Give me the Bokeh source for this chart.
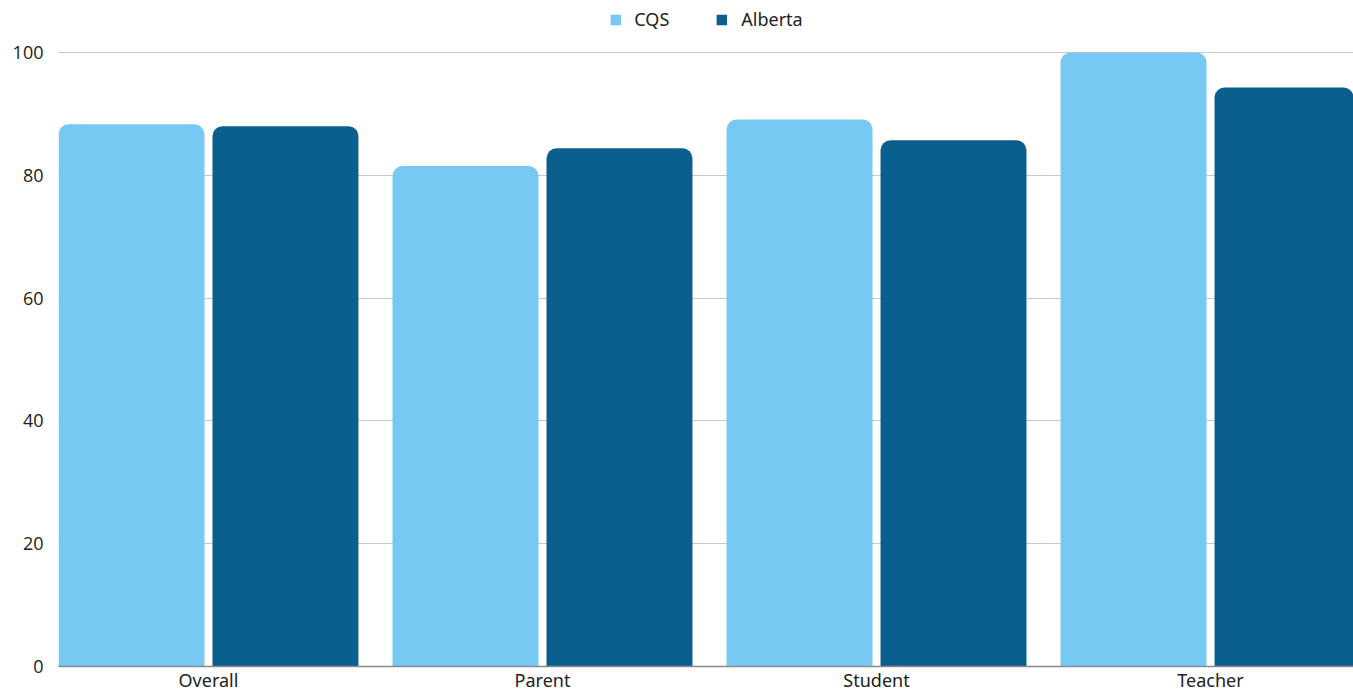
from bokeh.plotting import figure
from bokeh.models import FixedTicker, ColumnDataSource, Legend, LegendItem, Range1d
from bokeh.embed import file_html
from bokeh.resources import INLINE

# Survey results by respondent group
categories = ["Overall", "Parent", "Student", "Teacher"]
cqs = [88.3, 81.5, 89.1, 100.0]
alberta = [88.0, 84.4, 85.7, 94.3]
y_ticks = [0, 20, 40, 60, 80, 100]

CQS_COLOR = "#75C9F2"
AB_COLOR = "#0B5F8F"

xs = list(range(len(categories)))
offset = 0.2305
bar_w = 0.437

src = ColumnDataSource(dict(
    x=xs,
    x_cqs=[x - offset for x in xs],
    x_ab=[x + offset for x in xs],
    cqs=cqs,
    alberta=alberta,
))

p = figure(
    width=1353, height=694,
    x_range=Range1d(-0.449, 3.428),
    y_range=Range1d(0, 108.46),
    output_backend="svg", toolbar_location=None,
    min_border_left=58, min_border_right=0, min_border_top=0, min_border_bottom=0,
)
p.outline_line_color = None
p.background_fill_color = "white"
p.border_fill_color = "white"

r1 = p.vbar(x="x_cqs", top="cqs", width=bar_w, bottom=0, source=src,
            fill_color=CQS_COLOR, line_color=None, border_radius=(10, 10, 0, 0))
r2 = p.vbar(x="x_ab", top="alberta", width=bar_w, bottom=0, source=src,
            fill_color=AB_COLOR, line_color=None, border_radius=(10, 10, 0, 0))

# axes
p.xaxis.ticker = FixedTicker(ticks=xs)
p.xaxis.major_label_overrides = {i: c for i, c in enumerate(categories)}
p.xaxis.major_tick_line_color = None
p.xaxis.major_tick_out = 0
p.xaxis.major_tick_in = 0
p.xaxis.minor_tick_line_color = None
p.xaxis.axis_line_color = "#8a8a8a"
p.xaxis.axis_line_width = 1.5
p.xaxis.major_label_standoff = 1
p.xaxis.major_label_text_font = "Noto Sans"
p.xaxis.major_label_text_font_size = "18px"
p.xaxis.major_label_text_color = "#222222"

p.yaxis.ticker = FixedTicker(ticks=y_ticks)
p.yaxis.axis_line_color = None
p.yaxis.major_tick_line_color = None
p.yaxis.major_tick_out = 0
p.yaxis.major_tick_in = 0
p.yaxis.minor_tick_line_color = None
p.yaxis.major_label_standoff = 15
p.yaxis.major_label_text_font = "Open Sans"
p.yaxis.major_label_text_font_size = "18px"
p.yaxis.major_label_text_color = "#222222"

p.xgrid.grid_line_color = None
p.ygrid.ticker = FixedTicker(ticks=y_ticks[1:])
p.ygrid.grid_line_color = "#c8c8c8"
p.ygrid.grid_line_width = 1
p.ygrid.level = "underlay"

legend = Legend(
    items=[LegendItem(label="CQS", renderers=[r1]),
           LegendItem(label="Alberta", renderers=[r2])],
    location="top_center", orientation="horizontal",
    glyph_width=13, glyph_height=13, label_standoff=13, spacing=46,
    label_text_font="Noto Sans", label_text_font_size="18px",
    label_text_color="#222222",
    border_line_color=None, background_fill_alpha=0,
    padding=0, margin=7,
)
p.add_layout(legend)

open("out.html", "w").write(file_html(p, INLINE))
